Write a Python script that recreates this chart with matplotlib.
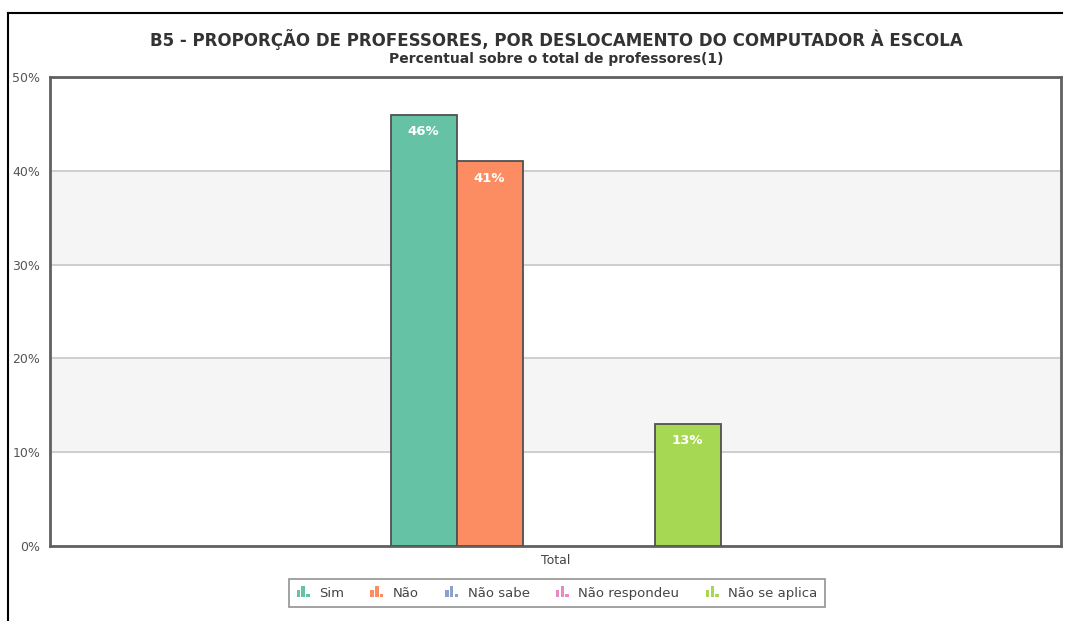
import numpy as np
import matplotlib
matplotlib.use('Agg')
import matplotlib.pyplot as plt
from matplotlib.patches import Rectangle
from matplotlib.lines import Line2D
from matplotlib.legend_handler import HandlerBase

categories = ['Total']
series = ['Sim', 'Não', 'Não sabe', 'Não respondeu', 'Não se aplica']
values = [46, 41, 0, 0, 13]
colors = ['#66c2a5', '#fc8d62', '#8da0cb', '#e78ac3', '#a6d854']
yticks = [0, 10, 20, 30, 40, 50]

title = 'B5 - PROPORÇÃO DE PROFESSORES, POR DESLOCAMENTO DO COMPUTADOR À ESCOLA'
subtitle = 'Percentual sobre o total de professores(1)'

plt.rcParams['font.family'] = ['DejaVu Sans']


class BarIconHandler(HandlerBase):
    # little three-bar icon like the original legend
    def create_artists(self, legend, orig_handle, xdescent, ydescent,
                       width, height, fontsize, trans):
        col = orig_handle.get_facecolor()
        w = width / 4.5
        hs = [0.7, 1.0, 0.35]
        arts = []
        for i, h in enumerate(hs):
            r = Rectangle((xdescent + i * w * 1.35, -ydescent),
                          w, height * h, facecolor=col, edgecolor='none',
                          transform=trans)
            arts.append(r)
        return arts


fig = plt.figure(figsize=(10.65, 6.21), dpi=100)
ax = fig.add_axes([50 / 1065, 1 - 546 / 621, (1061 - 50) / 1065, (546 - 77) / 621])

n = len(series)
bw = 66 / 1011.0  # bar width in data units (axis spans -0.5..0.5)
x0 = 0
offsets = (np.arange(n) - (n - 1) / 2) * bw

# alternating bands
for lo in [10, 30]:
    ax.axhspan(lo, lo + 10, color='#f5f5f5', zorder=0)
for y in yticks[1:-1]:
    ax.axhline(y, color='#c8c8c8', lw=1.2, zorder=1)

handles = []
for i in range(n):
    if values[i] > 0:
        ax.bar(x0 + offsets[i], values[i], width=bw, color=colors[i],
               edgecolor='#505050', linewidth=1.3, zorder=3, label=series[i])
        ax.text(x0 + offsets[i], values[i] - 1.8, f'{values[i]}%', ha='center',
                va='center', color='white', fontsize=9.5, fontweight='bold', zorder=4)
    handles.append(Rectangle((0, 0), 1, 1, facecolor=colors[i]))

ax.set_xlim(-0.5, 0.5)
ax.set_ylim(0, 50)
ax.set_yticks(yticks)
ax.set_yticklabels([f'{v}%' for v in yticks], color='#555555', fontsize=9)
ax.set_xticks([0])
ax.set_xticklabels(categories, color='#444444', fontsize=9)
ax.tick_params(length=0, pad=6)
ax.tick_params(axis='y', pad=7)
for s in ax.spines.values():
    s.set_color('#606060')
    s.set_linewidth(2)

fig.text(556 / 1065, 1 - 40 / 621, title, ha='center', va='center',
         fontsize=12, fontweight='bold', color='#333333')
fig.text(556 / 1065, 1 - 59 / 621, subtitle, ha='center', va='center',
         fontsize=10, fontweight='bold', color='#333333')

leg = fig.legend(handles, series, loc='center', bbox_to_anchor=(557 / 1065, 1 - 593 / 621),
                 ncol=n, fontsize=9.5, frameon=True, fancybox=False,
                 handler_map={Rectangle: BarIconHandler()},
                 handlelength=1.2, handleheight=0.9, handletextpad=0.5,
                 columnspacing=2.0, borderpad=0.6)
leg.get_frame().set_edgecolor('#777777')
leg.get_frame().set_linewidth(1.2)
for t in leg.get_texts():
    t.set_color('#444444')

# outer frame
fig.add_artist(Line2D([8 / 1065, 8 / 1065], [0, 1 - 13 / 621], color='black', lw=1.5))
fig.add_artist(Line2D([8 / 1065, 1062 / 1065], [1 - 13 / 621, 1 - 13 / 621], color='black', lw=1.5))

fig.savefig('out.png', dpi=100)
